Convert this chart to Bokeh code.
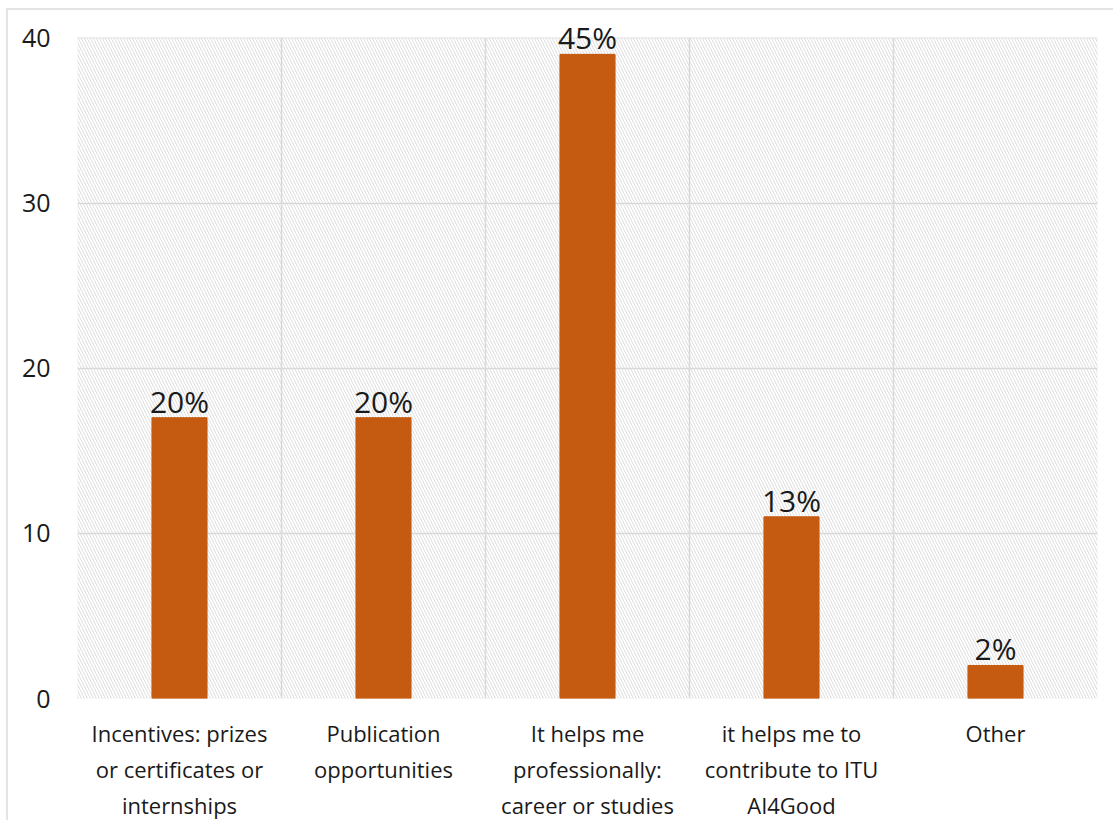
from bokeh.plotting import figure
from bokeh.models import ColumnDataSource, FixedTicker, Label, BoxAnnotation, Range1d
from bokeh.embed import file_html
from bokeh.resources import INLINE

categories = [
    "Incentives: prizes\nor certificates or\ninternships",
    "Publication\nopportunities",
    "It helps me\nprofessionally:\ncareer or studies",
    "it helps me to\ncontribute to ITU\nAI4Good",
    "Other",
]
counts = [17, 17, 39, 11, 2]
pct_labels = ["20%", "20%", "45%", "13%", "2%"]
y_ticks = [0, 10, 20, 30, 40]
y_max = 40
y_view_end = 41.05   # small headroom above the plot area so the top label is not clipped

FONT = "Open Sans"
GRID = "#d9d9d9"
n = len(categories)
xs = list(range(n))

src = ColumnDataSource(dict(x=xs, top=counts, lab=pct_labels))

p = figure(width=1107, height=812, output_backend="svg", toolbar_location=None,
           x_range=Range1d(-0.5, n - 0.5), y_range=Range1d(0, y_view_end),
           min_border_left=69, min_border_right=18, min_border_top=10, min_border_bottom=124)
p.margin = (8, 0, 0, 6)
p.styles = {"border-top": "2px solid #e4e4e4", "border-left": "2px solid #e4e4e4"}

p.background_fill_color = "white"
p.border_fill_color = "white"
p.outline_line_color = None

# hatched plot area
p.add_layout(BoxAnnotation(bottom=0, top=y_max, fill_color="white", fill_alpha=1.0, line_alpha=0,
                           hatch_pattern="\\", hatch_color="#dedede", hatch_scale=6,
                           hatch_weight=1, level="image"))
# mask above the plot area (hides grid lines there)
p.add_layout(BoxAnnotation(bottom=y_max, fill_color="white", fill_alpha=1.0, line_alpha=0,
                           level="underlay"))
# plot area border
p.add_layout(BoxAnnotation(bottom=0, top=y_max, fill_alpha=0, line_color=GRID, line_width=1.5,
                           level="underlay"))

p.vbar(x="x", top="top", bottom=0, width=0.27, source=src,
       fill_color="#C55A11", line_color="#C55A11")

for xi, yi, lab in zip(xs, counts, pct_labels):
    p.add_layout(Label(x=xi, y=yi, text=lab, text_align="center",
                       text_baseline="bottom", y_offset=-4, text_font=FONT,
                       text_font_size="30px", text_color="#1a1a1a", level="overlay"))

# axes
p.yaxis.ticker = FixedTicker(ticks=y_ticks)
p.yaxis.major_label_text_font = FONT
p.yaxis.major_label_text_font_size = "25px"
p.yaxis.major_label_text_color = "#1a1a1a"
p.yaxis.axis_line_color = None
p.yaxis.major_tick_line_color = None
p.yaxis.minor_tick_line_color = None
p.yaxis.major_label_standoff = 21

p.xaxis.ticker = FixedTicker(ticks=xs)
p.xaxis.major_label_overrides = {i: c for i, c in zip(xs, categories)}
p.xaxis.major_label_text_font = FONT
p.xaxis.major_label_text_font_size = "22px"
p.xaxis.major_label_text_color = "#1a1a1a"
p.xaxis.axis_line_color = None
p.xaxis.major_tick_line_color = None
p.xaxis.minor_tick_line_color = None
p.xaxis.major_label_standoff = 13

# grids
p.ygrid.ticker = FixedTicker(ticks=y_ticks)
p.ygrid.grid_line_color = GRID
p.ygrid.grid_line_width = 1.5
p.xgrid.ticker = FixedTicker(ticks=[i + 0.5 for i in range(n - 1)])
p.xgrid.grid_line_color = GRID
p.xgrid.grid_line_width = 1.5

open("out.html", "w").write(file_html(p, INLINE))
